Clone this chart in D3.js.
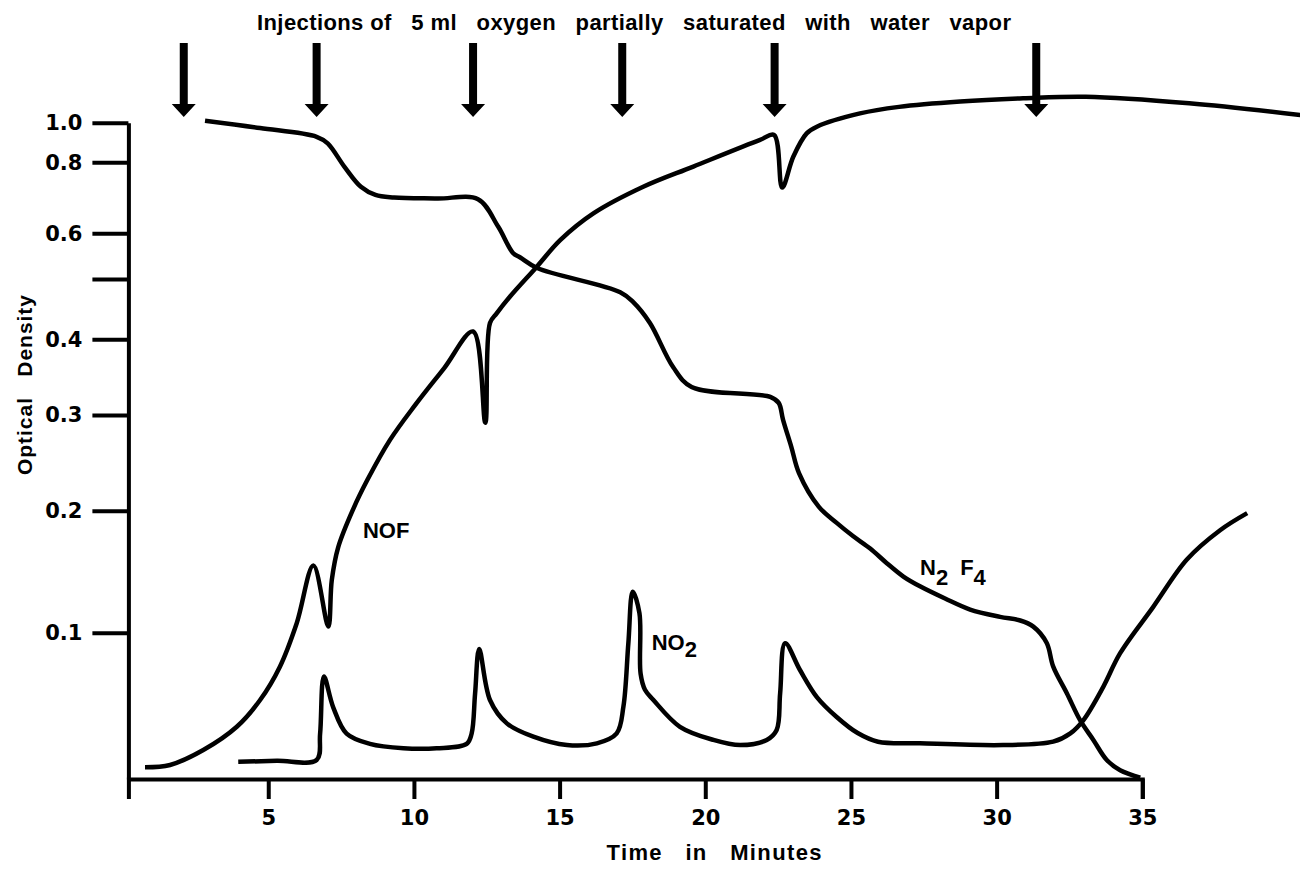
<!DOCTYPE html>
<html>
<head>
<meta charset="utf-8">
<script src="https://cdn.jsdelivr.net/npm/d3@7"></script>
<style>
  body { margin: 0; background: #fff; }
  svg { display: block; }
</style>
</head>
<body>
<div id="chart"></div>
<script>
// times in minutes, optical density
var nofTime = [0.77, 1.63, 2.77, 3.92, 4.72, 5.4, 5.98, 6.55, 7.06, 7.18, 7.4, 7.92, 8.4, 9.18, 10.04, 11.04, 12.03,
  12.45, 12.61, 12.84, 13.3, 14.22, 15.02, 16.16, 17.87, 19.59, 21.88, 22.36, 22.64, 23.02, 23.48, 23.83,
  25.31, 26.65, 28.75, 30.91, 33.06, 36.61, 40.42];
var nofOD = [0.008, 0.0096, 0.0198, 0.0357, 0.054, 0.0768, 0.108, 0.155, 0.105, 0.143, 0.170, 0.202, 0.232, 0.274, 0.313, 0.362, 0.413,
  0.292, 0.427, 0.443, 0.471, 0.527, 0.585, 0.656, 0.731, 0.788, 0.913, 0.938, 0.729, 0.828, 0.946, 0.98,
  1.047, 1.08, 1.107, 1.123, 1.131, 1.098, 1.039];

var n2f4Time = [2.83, 4.72, 6.66, 7.04, 7.61, 8.18, 8.68, 9.32, 10.8, 12.2, 12.89, 13.4, 13.65, 14.23, 17.08, 17.52, 18.1,
  18.9, 19.53, 22.23, 22.52, 22.67, 22.95, 23.22, 23.9, 24.51, 25.08, 25.66, 26.23, 26.8, 27.37, 28.23, 29.09,
  30.12, 30.81, 31.26, 31.72, 31.94, 32.41, 32.87, 33.32, 33.78, 34.24, 34.93];
var n2f4OD = [1.01, 0.973, 0.929, 0.896, 0.788, 0.731, 0.708, 0.701, 0.698, 0.696, 0.619, 0.557, 0.547, 0.524, 0.478, 0.462, 0.427,
  0.363, 0.337, 0.324, 0.316, 0.295, 0.267, 0.239, 0.204, 0.190, 0.179, 0.169, 0.157, 0.146, 0.138, 0.128, 0.119,
  0.113, 0.110, 0.105, 0.093, 0.077, 0.0586, 0.040, 0.0267, 0.013, 0.006, 0.001];

var no2Time = [3.97, 5.3, 6.66, 6.78, 6.91, 7.23, 7.69, 8.49, 9.64, 10.78, 11.81, 11.98, 12.1, 12.24, 12.61, 13.19, 14.1,
  15.25, 16.28, 16.96, 17.19, 17.36, 17.51, 17.74, 17.78, 17.93, 18.22, 19.13, 20.28, 21.2, 22.11, 22.45, 22.57, 22.74,
  23.25, 23.83, 24.51, 25.23, 25.93, 27.37, 30.22, 31.94, 32.53, 32.98, 33.66, 34.24, 35.37, 36.53, 37.67, 38.6];
var no2OD = [0.0118, 0.0124, 0.013, 0.031, 0.070, 0.049, 0.031, 0.024, 0.021, 0.021, 0.024, 0.031, 0.0586, 0.0888, 0.054, 0.038, 0.0289,
  0.0232, 0.0244, 0.0312, 0.0494, 0.0928, 0.1336, 0.116, 0.072, 0.061, 0.054, 0.0357, 0.0267, 0.0232, 0.0267, 0.0335, 0.0586, 0.0928,
  0.0745, 0.056, 0.0424, 0.0314, 0.0255, 0.0244, 0.0232, 0.0255, 0.0312, 0.0403, 0.063, 0.086, 0.121, 0.160, 0.184, 0.198];

var injectionTimes = [2.1, 6.66, 12.03, 17.15, 22.38, 31.36];

var xTicks = [5, 10, 15, 20, 25, 30, 35];
var yTicks = [0.1, 0.2, 0.3, 0.4, 0.5, 0.6, 0.8, 1.0];
var yTickLabels = ["0.1", "0.2", "0.3", "0.4", "", "0.6", "0.8", "1.0"];

var wordFont = "'Liberation Sans', Arial, sans-serif";
var numFont = "'DejaVu Sans', sans-serif";

var svg = d3.select("#chart")
  .append("svg")
    .attr("width", 1300)
    .attr("height", 869);

var x = d3.scaleLinear()
  .domain([0.2, 35])
  .range([128.4, 1142.3]);

// the printed density axis is hand spaced (log-like), so map it piece by piece
var y = d3.scaleLinear()
  .domain([0].concat(yTicks))
  .range([779, 632.7, 510.7, 415, 339.3, 279, 233.3, 162.3, 122.7]);

function styleAxis(g) {
  g.attr("font-family", numFont)
    .attr("font-size", 21)
    .attr("font-weight", "bold");
  g.selectAll("path, line")
    .attr("stroke", "#000")
    .attr("stroke-width", 4);
  g.selectAll("text").attr("fill", "#000");
}

svg.append("g")
  .attr("transform", "translate(0," + y(0) + ")")
  .call(d3.axisBottom(x)
    .tickValues(xTicks)
    .tickSize(20)
    .tickPadding(11)
    .tickFormat(d3.format("d")))
  .call(styleAxis);

svg.append("g")
  .attr("transform", "translate(" + x(0.2) + ",0)")
  .call(d3.axisLeft(y)
    .tickValues(yTicks)
    .tickSize(36)
    .tickSizeOuter(0)
    .tickPadding(10)
    .tickFormat(function(d, i) { return yTickLabels[i]; }))
  .call(styleAxis);

// curves
function series(ts, vs) {
  return ts.map(function(t, i) { return {t: t, v: vs[i]}; });
}

var line = d3.line()
  .x(function(d) { return x(d.t); })
  .y(function(d) { return y(d.v); })
  .curve(d3.curveCatmullRom.alpha(0.5));

[series(nofTime, nofOD), series(n2f4Time, n2f4OD), series(no2Time, no2OD)].forEach(function(s) {
  svg.append("path")
    .datum(s)
    .attr("d", line)
    .attr("fill", "none")
    .attr("stroke", "#000")
    .attr("stroke-width", 4.5)
    .attr("stroke-linejoin", "round");
});

// injection arrows
svg.selectAll(".arrow")
  .data(injectionTimes)
  .enter()
  .append("path")
    .attr("class", "arrow")
    .attr("fill", "#000")
    .attr("d", function(d) {
      var cx = x(d);
      return "M" + (cx - 4) + ",43H" + (cx + 4) + "V104H" + (cx + 12) +
        "L" + cx + ",117L" + (cx - 12) + ",104H" + (cx - 4) + "Z";
    });

// texts
svg.append("text")
  .attr("x", 257)
  .attr("y", 30)
  .attr("font-family", wordFont)
  .attr("font-size", 22)
  .attr("font-weight", "bold")
  .attr("textLength", 754)
  .attr("lengthAdjust", "spacing")
  .style("white-space", "pre")
  .text("Injections of   5 ml   oxygen   partially   saturated   with   water   vapor");

svg.append("text")
  .attr("x", 714)
  .attr("y", 860)
  .attr("text-anchor", "middle")
  .attr("font-family", wordFont)
  .attr("font-size", 22)
  .attr("font-weight", "bold")
  .attr("textLength", 215)
  .attr("lengthAdjust", "spacing")
  .style("white-space", "pre")
  .text("Time   in   Minutes");

svg.append("text")
  .attr("transform", "translate(32,385) rotate(-90)")
  .attr("text-anchor", "middle")
  .attr("font-family", wordFont)
  .attr("font-size", 21)
  .attr("font-weight", "bold")
  .attr("textLength", 180)
  .attr("lengthAdjust", "spacing")
  .style("white-space", "pre")
  .text("Optical   Density");

var labels = svg.append("g")
  .attr("font-family", wordFont)
  .attr("font-size", 22)
  .attr("font-weight", "bold");

labels.append("text")
  .attr("x", x(8.25))
  .attr("y", y(0.178))
  .text("NOF");

var no2 = labels.append("text")
  .attr("x", x(18.16))
  .attr("y", y(0.0882));
no2.append("tspan").text("NO");
no2.append("tspan").attr("dy", 7).text("2");

var n2f4 = labels.append("text")
  .attr("x", x(27.37))
  .attr("y", y(0.147));
n2f4.append("tspan").text("N");
n2f4.append("tspan").attr("dy", 10).text("2");
n2f4.append("tspan").attr("dx", 12).attr("dy", -10).text("F");
n2f4.append("tspan").attr("dy", 10).text("4");
</script>
</body>
</html>
